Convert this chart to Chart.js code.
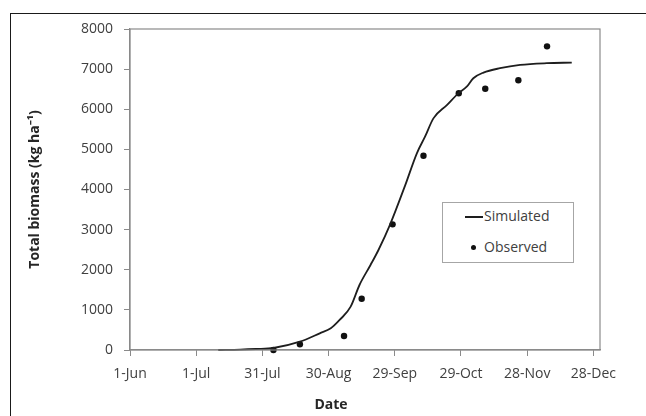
<!DOCTYPE html>
<html>
<head>
<meta charset="utf-8">
<script src="https://cdn.jsdelivr.net/npm/chart.js@4.4.1/dist/chart.umd.min.js"></script>
<style>
    html, body { margin: 0; padding: 0; background: #fff; overflow: hidden; width: 646px; height: 416px; }
    #frame { position: absolute; left: 10px; top: 12.5px; width: 700px; height: 500px;
             border-top: 1.5px solid #1a1a1a; border-left: 1.5px solid #1a1a1a; }
    #chartBox { position: absolute; left: 0; top: 0; width: 662px; height: 416px; }
    #legend { position: absolute; left: 442px; top: 202px; width: 130px; height: 59px;
              border: 1px solid #a6a6a6; background: #fff; font-family: 'Open Sans', sans-serif;
              font-size: 14px; color: #404040; }
    .row { position: absolute; left: 0; height: 20px; line-height: 20px; }
    .row span.txt { position: absolute; left: 41px; top: -1px; white-space: nowrap; }
    .sw-line { position: absolute; left: 22px; top: 9px; width: 18px; height: 2px; background: #1e1e1e; }
    .sw-dot { position: absolute; left: 28px; top: 7.5px; width: 5px; height: 5px; border-radius: 50%; background: #111; }
</style>
</head>
<body>
<div id="frame"></div>
<div id="chartBox"><canvas id="biomassChart" width="662" height="416"></canvas></div>
<div id="legend"></div>
<script>
// days counted from 1-Jun
const xTickDays = [0, 30, 60, 90, 120, 150, 180, 210];
const xTickLabels = ['1-Jun', '1-Jul', '31-Jul', '30-Aug', '29-Sep', '29-Oct', '28-Nov', '28-Dec'];

const simDays = [40, 50, 57, 65, 77, 86, 91, 95, 100, 104, 109, 112.6, 117.9, 124.7, 130, 133.7, 137.5, 143.6, 148.8, 152.6, 155.6, 160.2, 167.7, 176.8, 188.9, 200.2];
const simBiomass = [0, 10, 25, 50, 207, 416, 540, 748, 1080, 1620, 2118, 2492, 3132, 4103, 4902, 5316, 5773, 6104, 6397, 6561, 6773, 6914, 7023, 7105, 7148, 7163];

const obsDays = [65, 77, 97, 105, 119, 133, 149, 161, 176, 189];
const obsBiomass = [0, 142, 349, 1278, 3132, 4842, 6397, 6512, 6721, 7568];

const fontFamily = "'Open Sans', sans-serif";

// gray box round the plot area
const plotBorder = {
    id: 'plotBorder',
    afterDraw(chart) {
        const { ctx, chartArea } = chart;
        ctx.save();
        ctx.strokeStyle = '#8a8a8a';
        ctx.lineWidth = 1.2;
        ctx.strokeRect(chartArea.left, chartArea.top, chartArea.right - chartArea.left, chartArea.bottom - chartArea.top);
        ctx.restore();
    }
};

// legend written as html from the datasets
const htmlLegend = {
    id: 'htmlLegend',
    afterUpdate(chart) {
        const box = document.getElementById('legend');
        box.innerHTML = '';
        chart.data.datasets.forEach((ds, i) => {
            const row = document.createElement('div');
            row.className = 'row';
            row.style.top = (i === 0 ? 4 : 34.5) + 'px';
            const sw = document.createElement('div');
            sw.className = ds.showLine === false ? 'sw-dot' : 'sw-line';
            const txt = document.createElement('span');
            txt.className = 'txt';
            txt.textContent = ds.label;
            row.appendChild(sw);
            row.appendChild(txt);
            box.appendChild(row);
        });
    }
};

new Chart(document.getElementById('biomassChart'), {
    type: 'line',
    data: {
        datasets: [{
            label: 'Simulated',
            data: simDays.map((d, i) => ({ x: d, y: simBiomass[i] })),
            borderColor: '#1e1e1e',
            borderWidth: 1.8,
            pointRadius: 0,
            fill: false,
            clip: false,
            cubicInterpolationMode: 'monotone'
        }, {
            label: 'Observed',
            data: obsDays.map((d, i) => ({ x: d, y: obsBiomass[i] })),
            showLine: false,
            clip: false,
            pointRadius: 3.2,
            pointBackgroundColor: '#111',
            pointBorderWidth: 0
        }]
    },
    options: {
        responsive: false,
        animation: false,
        layout: { padding: { left: 0, right: 0, top: 29, bottom: 0 } },
        plugins: {
            legend: { display: false },
            tooltip: { enabled: false },
            title: {
                display: true,
                position: 'bottom',
                text: 'Date',
                color: '#262626',
                font: { family: fontFamily, size: 14, weight: 'bold' },
                padding: { top: 0, bottom: 3 }
            }
        },
        scales: {
            x: {
                type: 'linear',
                min: 0,
                max: 213,
                afterBuildTicks: axis => { axis.ticks = xTickDays.map(v => ({ value: v })); },
                afterFit: scale => { scale.height = 46.2; },
                ticks: {
                    color: '#404040',
                    font: { family: fontFamily, size: 14 },
                    padding: 10,
                    maxRotation: 0,
                    autoSkip: false,
                    callback: value => xTickLabels[xTickDays.indexOf(value)]
                },
                grid: { drawOnChartArea: false, drawTicks: true, tickLength: 6, color: '#8a8a8a' },
                border: { display: true, color: '#8a8a8a', width: 1.2 }
            },
            y: {
                min: 0,
                max: 8000,
                afterFit: scale => { scale.width = 130; },
                ticks: {
                    stepSize: 1000,
                    color: '#404040',
                    font: { family: fontFamily, size: 14 },
                    padding: 11,
                    callback: value => String(value)
                },
                grid: { drawOnChartArea: false, drawTicks: true, tickLength: 6, color: '#8a8a8a' },
                border: { display: true, color: '#8a8a8a', width: 1.2 },
                title: {
                    display: true,
                    text: 'Total biomass (kg ha\u207B\u00B9)',
                    color: '#262626',
                    font: { family: fontFamily, size: 14, weight: 'bold' },
                    padding: { top: 27, bottom: 0 }
                }
            },
            yRight: {
                position: 'right',
                display: true,
                afterFit: scale => { scale.width = 62; },
                ticks: { display: false },
                grid: { display: false },
                border: { display: false }
            }
        }
    },
    plugins: [plotBorder, htmlLegend]
});
</script>
</body>
</html>
